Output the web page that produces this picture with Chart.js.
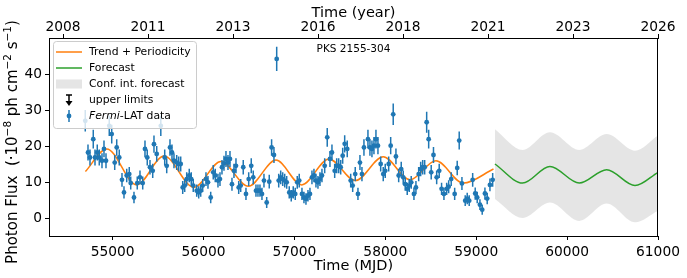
<!DOCTYPE html>
<html>
<head>
<meta charset="utf-8">
<script src="https://cdn.jsdelivr.net/npm/chart.js@4.4.1/dist/chart.umd.min.js"></script>
<style>
  html, body { margin: 0; padding: 0; background: #fff; }
  canvas { display: block; }
</style>
</head>
<body>
<canvas id="lightCurve" width="687" height="278"></canvas>
<script>
// PKS 2155-304 light curve: Fermi-LAT flux + trend/periodicity fit + forecast

const mjd = [
  54699, 54729, 54751, 54787, 54806, 54831, 54853, 54883, 54905, 54927,
  54963, 54990, 55023, 55045, 55073, 55103, 55125, 55155, 55183, 55199,
  55235, 55271, 55301, 55331, 55356, 55381, 55411, 55441, 55455, 55485,
  55530, 55573, 55595, 55631, 55653, 55675, 55705, 55727, 55749, 55771,
  55793, 55815, 55843, 55865, 55887, 55925, 55947, 55969, 55991, 56027,
  56049, 56079, 56107, 56129, 56159, 56181, 56203, 56225, 56247, 56269,
  56291, 56313, 56335, 56357, 56387, 56409, 56437, 56467, 56497, 56525,
  56547, 56577, 56599, 56621, 56643, 56665, 56695, 56723, 56749, 56775,
  56805, 56827, 56849, 56871, 56893, 56915, 56943, 56965, 56987, 57009,
  57031, 57053, 57083, 57105, 57127, 57149, 57171, 57193, 57215, 57237,
  57259, 57281, 57303, 57333, 57361, 57391, 57413, 57443, 57465, 57487,
  57509, 57531, 57553, 57581, 57619, 57641, 57669, 57699, 57721, 57743,
  57765, 57809, 57831, 57853, 57875, 57897, 57919, 57949, 57977, 57999,
  58037, 58059, 58087, 58117, 58147, 58175, 58197, 58219, 58241, 58263,
  58285, 58315, 58337, 58367, 58389, 58411, 58433, 58455, 58477, 58505,
  58530, 58565, 58593, 58619, 58645, 58675, 58697, 58725, 58763, 58791,
  58813, 58843, 58879, 58901, 58923, 58961, 58989, 59011, 59041, 59066,
  59096, 59121, 59151, 59181
];
const flux = [
  27.0, 18.2, 16.8, 21.9, 16.8, 18.2, 16.8, 15.9, 19.2, 15.9,
  25.6, 23.3, 15.4, 19.6, 16.8, 10.6, 7.1, 11.8, 12.2, 9.7,
  5.7, 9.7, 11.3, 9.7, 19.2, 16.8, 14.1, 13.1, 20.5, 17.8,
  25.6, 16.8, 14.5, 19.6, 18.2, 15.9, 15.4, 15.0, 15.0, 8.5,
  9.0, 10.8, 11.8, 10.8, 9.0, 7.6, 7.1, 7.6, 9.0, 10.8,
  9.9, 5.7, 12.7, 11.8, 10.4, 10.8, 14.1, 15.2, 16.4, 15.4,
  16.4, 9.4, 13.1, 14.5, 8.5, 9.0, 14.1, 6.7, 10.8, 14.5,
  11.3, 7.6, 7.6, 7.6, 6.7, 10.4, 4.3, 10.1, 19.6, 17.5,
  44.2, 10.4, 11.3, 10.8, 10.4, 9.9, 7.1, 6.2, 7.1, 6.7,
  9.9, 10.4, 6.7, 5.7, 5.3, 6.2, 6.7, 11.3, 11.8, 10.4,
  9.9, 10.8, 11.8, 14.5, 22.4, 16.4, 18.2, 13.1, 14.5, 14.5,
  14.1, 17.3, 20.6, 19.2, 10.4, 9.0, 12.2, 6.7, 15.4, 12.2,
  19.6, 21.9, 19.6, 19.2, 20.1, 21.9, 20.1, 15.0, 12.2, 13.1,
  15.0, 20.1, 28.8, 17.1, 11.8, 13.6, 11.3, 9.4, 8.1, 9.0,
  9.9, 6.7, 8.5, 12.2, 13.6, 14.1, 14.1, 26.6, 21.9, 12.7,
  17.5, 11.3, 13.1, 8.1, 6.7, 8.1, 8.7, 10.8, 6.7, 13.9,
  21.5, 9.6, 4.8, 5.4, 4.8, 10.6, 6.8, 5.7, 3.7, 2.3,
  6.8, 5.4, 9.2, 10.6
];
const fluxErr = [
  3.0, 2.2, 2.2, 2.6, 2.2, 2.2, 2.2, 2.1, 2.3, 2.1,
  2.8, 2.6, 2.1, 2.3, 2.2, 1.9, 1.7, 1.9, 2.0, 1.8,
  1.6, 1.8, 1.9, 1.8, 2.3, 2.2, 2.0, 2.0, 2.4, 2.2,
  2.8, 2.2, 2.1, 2.3, 2.2, 2.1, 2.1, 2.1, 2.1, 1.8,
  1.8, 1.9, 1.9, 1.9, 1.8, 1.7, 1.7, 1.7, 1.8, 1.9,
  1.8, 1.6, 2.0, 1.9, 1.9, 1.9, 2.0, 2.1, 2.2, 2.1,
  2.2, 1.8, 2.0, 2.1, 1.8, 1.8, 2.0, 1.7, 1.9, 2.1,
  1.9, 1.7, 1.7, 1.7, 1.7, 1.9, 1.5, 1.9, 2.3, 2.2,
  3.4, 1.9, 1.9, 1.9, 1.9, 1.8, 1.7, 1.6, 1.7, 1.7,
  1.8, 1.9, 1.7, 1.6, 1.6, 1.6, 1.7, 1.9, 1.9, 1.9,
  1.8, 1.9, 1.9, 2.1, 2.6, 2.2, 2.2, 2.0, 2.1, 2.1,
  2.0, 2.2, 2.4, 2.3, 1.9, 1.8, 2.0, 1.7, 2.1, 2.0,
  2.3, 2.6, 2.3, 2.3, 2.4, 2.6, 2.4, 2.1, 2.0, 2.0,
  2.1, 2.4, 3.0, 2.2, 1.9, 2.0, 1.9, 1.8, 1.7, 1.8,
  1.8, 1.7, 1.8, 2.0, 2.0, 2.0, 2.0, 2.9, 2.6, 2.0,
  2.2, 1.9, 2.0, 1.7, 1.7, 1.7, 1.8, 1.9, 1.7, 2.0,
  2.5, 1.8, 1.5, 1.6, 1.5, 1.9, 1.7, 1.6, 1.5, 1.4,
  1.7, 1.6, 1.8, 1.9
];
const binHalfWidth = 14; // days

// trend + periodicity fit (turning points)
const trendMjd  = [54700, 54935, 55265, 55565, 55895, 56190, 56493, 56797, 57080, 57380, 57670, 57977, 58271, 58557, 58858, 59190];
const trendFlux = [12.9, 19.2, 9.2, 17.2, 8.5, 15.7, 8.8, 16.1, 9.2, 16.4, 10.4, 17.0, 10.6, 15.9, 9.7, 13.6];

// forecast and its confidence interval
const fcMjd   = [59206, 59511, 59811, 60134, 60435, 60747, 61000];
const fcFlux  = [15.0, 9.7, 14.3, 9.7, 13.4, 9.0, 12.7];
const fcUpper = [24.7, 18.9, 23.8, 18.9, 23.3, 18.7, 22.9];
const fcLower = [5.3, 0.0, 4.3, -0.8, 4.0, -1.2, 2.0];

const mjdTicks = [55000, 56000, 57000, 58000, 59000, 60000, 61000];
const yearTickMjd = [54455, 55390, 56325, 57260, 58195, 59130, 60065, 61000];
const yearTickLabels = ["2008", "2011", "2013", "2016", "2018", "2021", "2023", "2026"];
const fluxTicks = [0, 10, 20, 30, 40];

const BLUE = "#1f77b4", ORANGE = "#ff7f0e", GREEN = "#2ca02c";
const FONT = "DejaVu Sans";
Chart.defaults.font.family = FONT;
Chart.defaults.color = "#000";

const pts = (xs, ys) => xs.map((x, i) => ({ x: x, y: ys[i] }));

// error bars under the Fermi markers
const errorBars = {
  id: "errorBars",
  beforeDatasetDraw(chart, args) {
    if (chart.data.datasets[args.index].label !== "Fermi-LAT data") return;
    const { ctx, chartArea: a, scales: { x, y } } = chart;
    ctx.save();
    ctx.beginPath();
    ctx.rect(a.left, a.top, a.right - a.left, a.bottom - a.top);
    ctx.clip();
    ctx.strokeStyle = BLUE;
    ctx.lineWidth = 1.5;
    ctx.beginPath();
    mjd.forEach((m, i) => {
      const px = x.getPixelForValue(m);
      const py = y.getPixelForValue(flux[i]);
      ctx.moveTo(px, y.getPixelForValue(flux[i] - fluxErr[i]));
      ctx.lineTo(px, y.getPixelForValue(flux[i] + fluxErr[i]));
      ctx.moveTo(x.getPixelForValue(m - binHalfWidth), py);
      ctx.lineTo(x.getPixelForValue(m + binHalfWidth), py);
    });
    ctx.stroke();
    ctx.restore();
  }
};

// frame, y title, source label and legend (matplotlib style)
const decorations = {
  id: "decorations",
  afterDraw(chart) {
    const { ctx, chartArea: a } = chart;
    ctx.save();

    // frame
    ctx.strokeStyle = "#000";
    ctx.lineWidth = 1;
    ctx.strokeRect(a.left + 0.5, a.top + 0.5, a.right - a.left - 1, a.bottom - a.top);

    // y-axis title with superscripts
    const parts = [["Photon Flux  (\u00b710", 0], ["\u22128", 1], [" ph cm", 0], ["\u22122", 1], [" s", 0], ["\u22121", 1], [")", 0]];
    const big = "15px " + FONT, small = "10.5px " + FONT;
    let total = 0;
    parts.forEach(p => { ctx.font = p[1] ? small : big; total += ctx.measureText(p[0]).width; });
    ctx.translate(13, 142);
    ctx.rotate(-Math.PI / 2);
    ctx.fillStyle = "#000";
    ctx.textBaseline = "middle";
    ctx.textAlign = "left";
    let cx = -total / 2;
    parts.forEach(p => {
      ctx.font = p[1] ? small : big;
      ctx.fillText(p[0], cx, p[1] ? -5 : 0);
      cx += ctx.measureText(p[0]).width;
    });
    ctx.setTransform(1, 0, 0, 1, 0, 0);

    // source name
    ctx.font = "10.5px " + FONT;
    ctx.textAlign = "center";
    ctx.fillText("PKS 2155-304", (a.left + a.right) / 2, 49);

    // legend
    const bx = 53, by = 41, bw = 143, bh = 87;
    ctx.beginPath();
    ctx.roundRect(bx + 0.5, by + 0.5, bw, bh, 3);
    ctx.fillStyle = "rgba(255,255,255,0.8)";
    ctx.fill();
    ctx.strokeStyle = "#cccccc";
    ctx.stroke();

    const hx0 = 56, hx1 = 82, hc = 69, tx = 89;
    const rowY = [52, 68, 84, 100, 116];
    ctx.lineWidth = 1.5;
    ctx.strokeStyle = ORANGE;
    ctx.beginPath(); ctx.moveTo(hx0, rowY[0]); ctx.lineTo(hx1, rowY[0]); ctx.stroke();
    ctx.strokeStyle = GREEN;
    ctx.beginPath(); ctx.moveTo(hx0, rowY[1]); ctx.lineTo(hx1, rowY[1]); ctx.stroke();
    ctx.fillStyle = "rgba(211,211,211,0.6)";
    ctx.fillRect(hx0, rowY[2] - 4.5, hx1 - hx0, 9);

    // upper-limit symbol
    ctx.strokeStyle = "#000";
    ctx.fillStyle = "#000";
    ctx.lineWidth = 1.5;
    ctx.beginPath();
    ctx.moveTo(hc - 3, rowY[3] - 5); ctx.lineTo(hc + 3, rowY[3] - 5);
    ctx.moveTo(hc, rowY[3] - 5); ctx.lineTo(hc, rowY[3] + 3);
    ctx.stroke();
    ctx.beginPath();
    ctx.moveTo(hc - 3.5, rowY[3] + 1); ctx.lineTo(hc + 3.5, rowY[3] + 1); ctx.lineTo(hc, rowY[3] + 6);
    ctx.closePath(); ctx.fill();

    // errorbar symbol
    ctx.strokeStyle = BLUE;
    ctx.fillStyle = BLUE;
    ctx.lineWidth = 1.5;
    ctx.beginPath();
    ctx.moveTo(hc, rowY[4] - 6); ctx.lineTo(hc, rowY[4] + 6);
    ctx.moveTo(hc - 1.5, rowY[4]); ctx.lineTo(hc + 1.5, rowY[4]);
    ctx.stroke();
    ctx.beginPath(); ctx.arc(hc, rowY[4], 2.4, 0, Math.PI * 2); ctx.fill();

    ctx.fillStyle = "#000";
    ctx.textAlign = "left";
    ctx.textBaseline = "middle";
    ctx.font = "10.8px " + FONT;
    ["Trend + Periodicity", "Forecast", "Conf. int. forecast", "upper limits"].forEach((t, i) => ctx.fillText(t, tx, rowY[i] + 0.5));
    ctx.font = "italic 10.8px " + FONT;
    ctx.fillText("Fermi", tx, rowY[4] + 0.5);
    const w = ctx.measureText("Fermi").width;
    ctx.font = "10.8px " + FONT;
    ctx.fillText("-LAT data", tx + w, rowY[4] + 0.5);

    ctx.restore();
  }
};

const tickFont = { family: FONT, size: 13.8 };
const titleFont = { family: FONT, size: 14.5 };

new Chart(document.getElementById("lightCurve"), {
  type: "line",
  data: {
    datasets: [
      {
        label: "Fermi-LAT data",
        data: pts(mjd, flux),
        showLine: false,
        pointRadius: 2.4,
        pointBackgroundColor: BLUE,
        pointBorderWidth: 0,
        borderColor: BLUE
      },
      {
        label: "Trend + Periodicity",
        data: pts(trendMjd, trendFlux),
        borderColor: ORANGE,
        borderWidth: 1.5,
        pointRadius: 0,
        cubicInterpolationMode: "monotone"
      },
      {
        label: "Forecast",
        data: pts(fcMjd, fcFlux),
        borderColor: GREEN,
        borderWidth: 1.5,
        pointRadius: 0,
        cubicInterpolationMode: "monotone"
      },
      {
        label: "Conf. int. forecast",
        data: pts(fcMjd, fcUpper),
        borderColor: "rgba(0,0,0,0)",
        borderWidth: 0,
        pointRadius: 0,
        backgroundColor: "rgba(211,211,211,0.6)",
        fill: "+1",
        cubicInterpolationMode: "monotone"
      },
      {
        label: "conf-lower",
        data: pts(fcMjd, fcLower),
        borderColor: "rgba(0,0,0,0)",
        borderWidth: 0,
        pointRadius: 0,
        fill: false,
        cubicInterpolationMode: "monotone"
      }
    ]
  },
  options: {
    responsive: false,
    animation: false,
    devicePixelRatio: 1,
    layout: { padding: { left: 0, right: 29, top: 0, bottom: 0 } },
    plugins: { legend: { display: false }, tooltip: { enabled: false } },
    scales: {
      x: {
        type: "linear",
        position: "bottom",
        min: 54300,
        max: 61000,
        afterBuildTicks: s => { s.ticks = mjdTicks.map(v => ({ value: v })); },
        afterFit: s => { s.height = 42; },
        ticks: { font: tickFont, color: "#000", padding: 4, maxRotation: 0, autoSkip: false, callback: v => String(v) },
        grid: { drawOnChartArea: false, color: "#000", tickLength: 4 },
        border: { color: "#000" },
        title: { display: true, text: "Time (MJD)", font: titleFont, color: "#000", padding: { top: 0, bottom: 3 } }
      },
      x2: {
        type: "linear",
        position: "top",
        min: 54300,
        max: 61000,
        afterBuildTicks: s => { s.ticks = yearTickMjd.map(v => ({ value: v })); },
        afterFit: s => { s.height = 38; },
        ticks: { font: tickFont, color: "#000", padding: -2, maxRotation: 0, autoSkip: false, callback: (v, i) => yearTickLabels[i] },
        grid: { drawOnChartArea: false, color: "#000", tickLength: 4 },
        border: { color: "#000" },
        title: { display: true, text: "Time (year)", font: titleFont, color: "#000", padding: { top: 5, bottom: 0 } }
      },
      y: {
        min: -5,
        max: 50,
        afterBuildTicks: s => { s.ticks = fluxTicks.map(v => ({ value: v })); },
        afterFit: s => { s.width = 49; },
        ticks: { font: tickFont, color: "#000", padding: 3 },
        grid: { drawOnChartArea: false, color: "#000", tickLength: 4 },
        border: { color: "#000" }
      }
    }
  },
  plugins: [errorBars, decorations]
});
</script>
</body>
</html>
